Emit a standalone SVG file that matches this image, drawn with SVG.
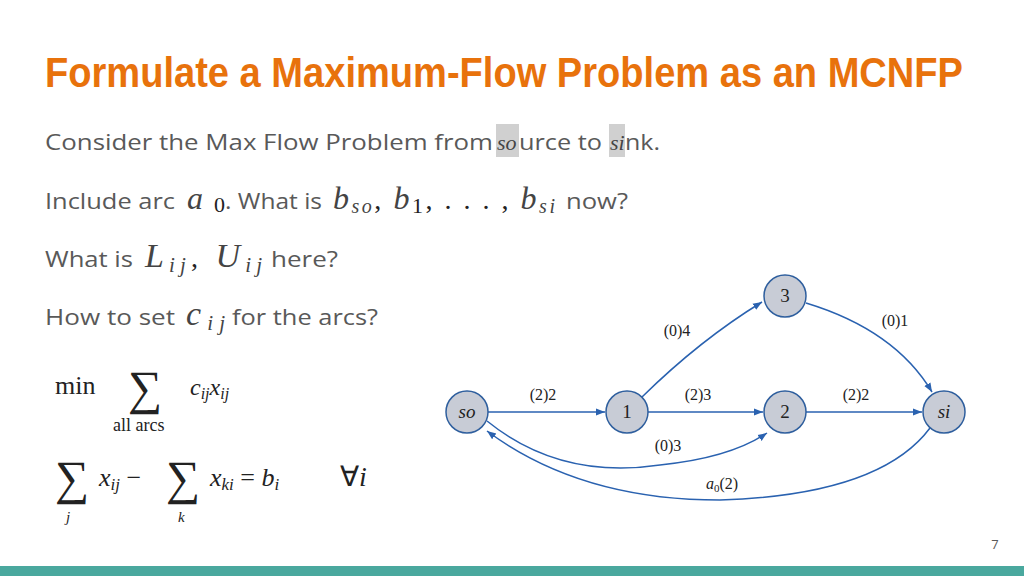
<svg xmlns="http://www.w3.org/2000/svg" width="1024" height="576" viewBox="0 0 1024 576">
<style>
.t{font-family:"Open Sans","Noto Sans",sans-serif;font-size:22px;fill:#595959}
.m{font-family:"Liberation Serif",serif;font-style:italic;fill:#444}
.s{font-family:"Liberation Serif",serif;fill:#222}
.n{fill:#c8ccd6;stroke:#2f5f9e;stroke-width:1.5}
.nl{font-family:"Liberation Serif",serif;font-size:19px;fill:#222;text-anchor:middle}
.e{fill:none;stroke:#2a62b0;stroke-width:1.5;marker-end:url(#a)}
.el{font-family:"Liberation Serif",serif;font-size:16px;fill:#222;text-anchor:middle}
</style>
<defs><marker id="a" viewBox="0 0 10 10" refX="10" refY="5" markerWidth="9" markerHeight="9" markerUnits="userSpaceOnUse" orient="auto"><path d="M0,1 L10,5 L0,9 z" fill="#2a62b0"/></marker></defs>
<rect width="1024" height="576" fill="#fff"/>
<text x="45" y="87" font-family="'Liberation Sans',sans-serif" font-weight="bold" font-size="42" fill="#e8720c" textLength="918" lengthAdjust="spacingAndGlyphs">Formulate a Maximum-Flow Problem as an MCNFP</text>
<rect x="496" y="124" width="23" height="33" fill="#d0d0d0"/>
<rect x="609" y="124" width="16" height="33" fill="#d0d0d0"/>
<text class="t" x="45" y="150" textLength="448" lengthAdjust="spacingAndGlyphs">Consider the Max Flow Problem from</text>
<text class="m" x="497" y="150" font-size="22" fill="#222">so</text>
<text class="t" x="519" y="150" textLength="83" lengthAdjust="spacingAndGlyphs">urce to</text>
<text class="m" x="610" y="150" font-size="22" fill="#222">si</text>
<text class="t" x="625" y="150" textLength="35" lengthAdjust="spacingAndGlyphs">nk.</text>
<text class="t" x="45" y="209" textLength="130" lengthAdjust="spacingAndGlyphs">Include arc</text>
<text x="187" y="209" textLength="38"><tspan class="m" font-size="32">a</tspan><tspan class="s" font-size="22" fill="#444" dy="3">0</tspan></text>
<text class="t" x="225" y="209" textLength="97" lengthAdjust="spacingAndGlyphs">. What is</text>
<text x="333" y="209" textLength="222"><tspan class="m" font-size="32">b</tspan><tspan class="m" font-size="20" dy="4">so</tspan><tspan class="s" font-size="28" fill="#444" dy="-4">, </tspan><tspan class="m" font-size="32">b</tspan><tspan class="s" font-size="22" fill="#444" dy="4">1</tspan><tspan class="s" font-size="28" fill="#444" dy="-4">, . . . , </tspan><tspan class="m" font-size="32">b</tspan><tspan class="m" font-size="20" dy="4">si</tspan></text>
<text class="t" x="566" y="209" textLength="62" lengthAdjust="spacingAndGlyphs">now?</text>
<text class="t" x="45" y="267" textLength="88" lengthAdjust="spacingAndGlyphs">What is</text>
<text x="145" y="267" textLength="117"><tspan class="m" font-size="34">L</tspan><tspan class="m" font-size="21" dy="5">ij</tspan><tspan class="s" font-size="28" fill="#444" dy="-5">, </tspan><tspan class="m" font-size="34">U</tspan><tspan class="m" font-size="21" dy="5">ij</tspan></text>
<text class="t" x="271" y="267" textLength="67" lengthAdjust="spacingAndGlyphs">here?</text>
<text class="t" x="45" y="325" textLength="130" lengthAdjust="spacingAndGlyphs">How to set</text>
<text x="186" y="325" textLength="39"><tspan class="m" font-size="34">c</tspan><tspan class="m" font-size="21" dy="5">ij</tspan></text>
<text class="t" x="232" y="325" textLength="146" lengthAdjust="spacingAndGlyphs">for the arcs?</text>
<text class="s" x="55" y="394" font-size="26">min</text>
<text class="s" x="128" y="404" font-size="48">∑</text>
<text class="s" x="113" y="431" font-size="18">all arcs</text>
<text class="s" x="190" y="395" font-size="24"><tspan font-style="italic">c</tspan><tspan font-style="italic" font-size="16" dy="4">ij</tspan><tspan font-style="italic" dy="-4">x</tspan><tspan font-style="italic" font-size="16" dy="4">ij</tspan></text>
<text class="s" x="55" y="494" font-size="48">∑</text>
<text class="s" x="66" y="522" font-size="15" font-style="italic">j</text>
<text class="s" x="99" y="486" font-size="26"><tspan font-style="italic">x</tspan><tspan font-style="italic" font-size="17" dy="4">ij</tspan><tspan dy="-4"> − </tspan></text>
<text class="s" x="166" y="494" font-size="48">∑</text>
<text class="s" x="178" y="522" font-size="15" font-style="italic">k</text>
<text class="s" x="210" y="486" font-size="26"><tspan font-style="italic">x</tspan><tspan font-style="italic" font-size="17" dy="4">ki</tspan><tspan dy="-4"> = </tspan><tspan font-style="italic">b</tspan><tspan font-style="italic" font-size="17" dy="4">i</tspan></text>
<text class="s" x="340" y="486" font-size="28">∀<tspan font-style="italic">i</tspan></text>
<g id="edges">
<path class="e" d="M488,412 L605,412"/>
<path class="e" d="M647,412 L763,412"/>
<path class="e" d="M806,412 L922,412"/>
<path class="e" d="M642,397 Q700,340 762,302"/>
<path class="e" d="M806,303 Q895,330 932,392"/>
<path class="e" d="M487,421 Q560,480 660,465 Q730,458 767,433"/>
<path class="e" d="M930,428 Q880,495 720,500 Q580,500 487,431"/>
</g>
<g class="el">
<text x="543" y="400">(2)2</text>
<text x="698" y="400">(2)3</text>
<text x="856" y="400">(2)2</text>
<text x="677" y="336">(0)4</text>
<text x="895" y="326">(0)1</text>
<text x="668" y="451">(0)3</text>
<text x="722" y="489"><tspan font-style="italic">a</tspan><tspan font-size="11" dy="3">0</tspan><tspan dy="-3">(2)</tspan></text>
</g>
<g id="n-so"><circle class="n" cx="467" cy="412" r="21"/><text class="nl" x="467" y="418" font-style="italic">so</text></g>
<g id="n-1"><circle class="n" cx="627" cy="412" r="21"/><text class="nl" x="627" y="418">1</text></g>
<g id="n-2"><circle class="n" cx="785" cy="412" r="21"/><text class="nl" x="785" y="418">2</text></g>
<g id="n-3"><circle class="n" cx="785" cy="296" r="21"/><text class="nl" x="785" y="302">3</text></g>
<g id="n-si"><circle class="n" cx="944" cy="412" r="21"/><text class="nl" x="944" y="418" font-style="italic">si</text></g>
<text x="995" y="549" font-family="'Open Sans',sans-serif" font-size="13" fill="#595959" text-anchor="middle">7</text>
<rect x="0" y="566" width="1024" height="10" fill="#4aa89e"/>
</svg>
